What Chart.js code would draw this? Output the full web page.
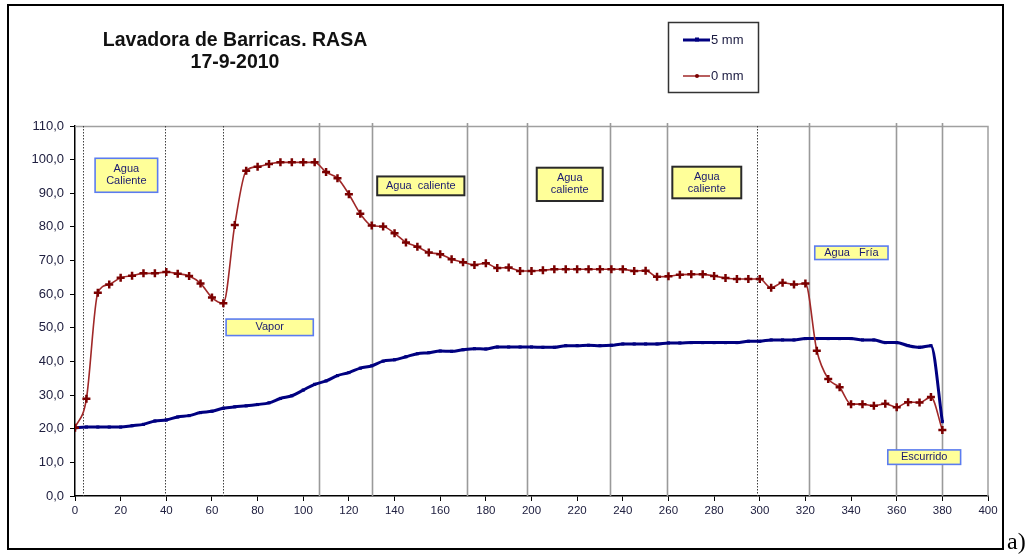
<!DOCTYPE html>
<html>
<head>
<meta charset="utf-8">
<script src="https://cdn.jsdelivr.net/npm/chart.js@4"></script>
<style>
  html, body { margin: 0; padding: 0; background: #ffffff; }
  #wrap { width: 1035px; height: 556px; position: relative; }
</style>
</head>
<body>
<div id="wrap"><canvas id="c" width="1035" height="556"></canvas></div>
<script>
// Sampling times (min)
const minutes = [
  0, 5, 10, 15, 20, 25, 30, 35, 40, 45, 50, 55, 60, 65, 70, 75, 80, 85, 90, 95,
  100, 105, 110, 115, 120, 125, 130, 135, 140, 145, 150, 155, 160, 165, 170, 175, 180, 185, 190, 195,
  200, 205, 210, 215, 220, 225, 230, 235, 240, 245, 250, 255, 260, 265, 270, 275, 280, 285, 290, 295,
  300, 305, 310, 315, 320, 325, 330, 335, 340, 345, 350, 355, 360, 365, 370, 375, 380
];

// Temperature at 5 mm depth
const temp5mm = [
  20.3, 20.5, 20.5, 20.5, 20.5, 20.9, 21.3, 22.3, 22.6, 23.5, 23.9, 24.8, 25.2, 26.1, 26.5, 26.8, 27.2, 27.7, 29.0, 29.8,
  31.5, 33.2, 34.2, 35.8, 36.7, 38.0, 38.7, 40.1, 40.5, 41.4, 42.3, 42.6, 43.1, 43.0, 43.5, 43.8, 43.7, 44.3, 44.3, 44.3,
  44.3, 44.2, 44.2, 44.7, 44.7, 44.8, 44.7, 44.8, 45.2, 45.2, 45.2, 45.2, 45.5, 45.5, 45.6, 45.6, 45.6, 45.6, 45.6, 46.0,
  46.0, 46.4, 46.4, 46.4, 46.8, 46.8, 46.8, 46.8, 46.8, 46.4, 46.4, 45.6, 45.6, 44.7, 44.2, 44.7, 22.1
];

// Temperature at the surface (0 mm)
const temp0mm = [
  20.3, 28.9, 60.4, 62.9, 64.9, 65.5, 66.2, 66.2, 66.6, 66.1, 65.4, 63.2, 59.0, 57.3, 80.6, 96.7, 97.9, 98.7, 99.2, 99.2,
  99.2, 99.2, 96.3, 94.5, 89.7, 83.9, 80.4, 80.1, 78.1, 75.4, 74.1, 72.4, 71.9, 70.4, 69.5, 68.7, 69.2, 67.8, 67.9, 66.9,
  66.9, 67.1, 67.4, 67.4, 67.4, 67.4, 67.4, 67.4, 67.4, 66.9, 67.0, 65.2, 65.3, 65.8, 65.9, 65.9, 65.4, 64.8, 64.5, 64.5,
  64.5, 61.9, 63.4, 62.9, 63.2, 43.2, 34.8, 32.3, 27.3, 27.3, 26.8, 27.4, 26.4, 27.9, 27.8, 29.4, 19.6
];

const seriesNames = ['5 mm', '0 mm'];
const titleLines = ['Lavadora de Barricas. RASA', '17-9-2010'];

// Phase boundaries (min)
const dottedMarks = [3.5, 39.5, 65, 299];
const solidMarks = [107, 130, 171.7, 198, 234.3, 259.5, 321.4, 359.5, 380];

// Phase labels: text lines and the box corners in axis units
const phaseLabels = [
  { lines: ['Agua', 'Caliente'], x0: 8.8,   x1: 36.2,  y0: 100.4, y1: 90.3, edge: 'blue' },
  { lines: ['Vapor'],            x0: 66.2,  x1: 104.4, y0: 52.6,  y1: 47.7, edge: 'blue' },
  { lines: ['Agua  caliente'],   x0: 132.4, x1: 170.6, y0: 95.0,  y1: 89.4, edge: 'dark' },
  { lines: ['Agua', 'caliente'], x0: 202.3, x1: 231.2, y0: 97.6,  y1: 87.7, edge: 'dark' },
  { lines: ['Agua', 'caliente'], x0: 261.7, x1: 291.9, y0: 97.9,  y1: 88.5, edge: 'dark' },
  { lines: ['Agua   Fría'],      x0: 324.1, x1: 356.2, y0: 74.3,  y1: 70.3, edge: 'blue' },
  { lines: ['Escurrido'],        x0: 356.1, x1: 388.0, y0: 13.7,  y1: 9.4,  edge: 'blue' }
];

const BLUE = '#000080';
const RED = '#a02828';
const RED_MARK = '#7a0000';
const SANS = '"Liberation Sans", Arial, sans-serif';

const toPoints = (ys) => minutes.map((m, i) => ({ x: m, y: ys[i] }));

const decorations = {
  id: 'decorations',
  beforeDatasetsDraw(chart) {
    const { ctx, chartArea: a, scales: { x } } = chart;
    ctx.save();
    // plot frame (top and right)
    ctx.strokeStyle = '#a0a0a0';
    ctx.lineWidth = 1.5;
    ctx.beginPath();
    ctx.moveTo(a.left, a.top + 0.5);
    ctx.lineTo(a.right, a.top + 0.5);
    ctx.lineTo(a.right, a.bottom);
    ctx.stroke();
    // solid phase lines
    ctx.strokeStyle = '#9a9a9a';
    ctx.lineWidth = 1.6;
    solidMarks.forEach(v => {
      const px = Math.round(x.getPixelForValue(v)) + 0.5;
      ctx.beginPath();
      ctx.moveTo(px, a.top - 3);
      ctx.lineTo(px, a.bottom);
      ctx.stroke();
    });
    // dotted phase lines
    ctx.strokeStyle = '#404040';
    ctx.lineWidth = 1;
    ctx.setLineDash([1.5, 1.5]);
    dottedMarks.forEach(v => {
      const px = Math.round(x.getPixelForValue(v)) + 0.5;
      ctx.beginPath();
      ctx.moveTo(px, a.top);
      ctx.lineTo(px, a.bottom);
      ctx.stroke();
    });
    ctx.restore();
  },
  afterDraw(chart) {
    const { ctx, scales: { x, y } } = chart;
    ctx.save();

    // phase label boxes
    phaseLabels.forEach(b => {
      const l = x.getPixelForValue(b.x0), r = x.getPixelForValue(b.x1);
      const t = y.getPixelForValue(b.y0), btm = y.getPixelForValue(b.y1);
      ctx.fillStyle = '#ffff99';
      ctx.fillRect(l, t, r - l, btm - t);
      ctx.lineWidth = b.edge === 'blue' ? 1.6 : 2;
      ctx.strokeStyle = b.edge === 'blue' ? '#5b7cf0' : '#2a2a2a';
      ctx.strokeRect(l, t, r - l, btm - t);
      ctx.fillStyle = '#1a1a70';
      ctx.font = '11px ' + SANS;
      ctx.textAlign = 'center';
      ctx.textBaseline = 'middle';
      const cx = (l + r) / 2, cy = (t + btm) / 2, lh = 12;
      b.lines.forEach((s, i) => {
        ctx.fillText(s, cx, cy + (i - (b.lines.length - 1) / 2) * lh);
      });
    });

    // title
    ctx.fillStyle = '#111111';
    ctx.font = 'bold 19.5px ' + SANS;
    ctx.textAlign = 'center';
    ctx.textBaseline = 'middle';
    ctx.fillText(titleLines[0], 235, 41);
    ctx.fillText(titleLines[1], 235, 63);

    // legend
    ctx.strokeStyle = '#333333';
    ctx.lineWidth = 1.5;
    ctx.strokeRect(668.5, 22.5, 90, 70);
    const entries = [
      { name: seriesNames[0], color: BLUE, width: 3, ly: 40, mark: 'rect' },
      { name: seriesNames[1], color: RED, width: 1.5, ly: 76, mark: 'dot' }
    ];
    entries.forEach(e => {
      ctx.strokeStyle = e.color;
      ctx.lineWidth = e.width;
      ctx.beginPath();
      ctx.moveTo(683, e.ly);
      ctx.lineTo(710, e.ly);
      ctx.stroke();
      ctx.fillStyle = e.mark === 'rect' ? BLUE : RED_MARK;
      if (e.mark === 'rect') ctx.fillRect(695, e.ly - 2.5, 4, 4);
      else { ctx.beginPath(); ctx.arc(697, e.ly, 2, 0, Math.PI * 2); ctx.fill(); }
      ctx.fillStyle = '#1a1a40';
      ctx.font = '13px ' + SANS;
      ctx.textAlign = 'left';
      ctx.textBaseline = 'middle';
      ctx.fillText(e.name, 711, e.ly);
    });

    // outer frame and figure tag
    ctx.strokeStyle = '#000000';
    ctx.lineWidth = 2;
    ctx.strokeRect(8, 5, 995, 544);
    ctx.fillStyle = '#000000';
    ctx.font = '24px "Liberation Serif", "Times New Roman", serif';
    ctx.textAlign = 'left';
    ctx.textBaseline = 'alphabetic';
    ctx.fillText('a)', 1007, 549);
    ctx.restore();
  }
};

new Chart(document.getElementById('c'), {
  type: 'line',
  data: {
    datasets: [
      {
        label: seriesNames[0],
        data: toPoints(temp5mm),
        borderColor: BLUE,
        backgroundColor: BLUE,
        borderWidth: 3,
        pointStyle: 'rect',
        pointRadius: 2.2,
        pointBorderWidth: 0,
        pointBackgroundColor: BLUE,
        tension: 0.3,
        cubicInterpolationMode: 'monotone',
        order: 2
      },
      {
        label: seriesNames[1],
        data: toPoints(temp0mm),
        borderColor: RED,
        backgroundColor: RED_MARK,
        borderWidth: 1.6,
        pointStyle: 'cross',
        pointRadius: 4,
        pointBorderWidth: 2.5,
        pointBorderColor: RED_MARK,
        pointBackgroundColor: RED_MARK,
        tension: 0.3,
        cubicInterpolationMode: 'monotone',
        order: 1
      }
    ]
  },
  options: {
    responsive: false,
    animation: false,
    devicePixelRatio: 1,
    layout: { padding: { top: 126, left: 0, right: 47, bottom: 30 } },
    plugins: {
      legend: { display: false },
      title: { display: false },
      tooltip: { enabled: false }
    },
    scales: {
      x: {
        type: 'linear',
        min: 0,
        max: 400,
        afterFit: (s) => { s.height = 30; },
        ticks: {
          stepSize: 20,
          padding: 3,
          color: '#202040',
          font: { family: SANS, size: 11.5 },
          maxRotation: 0
        },
        grid: { drawOnChartArea: false, drawTicks: true, tickLength: 5, color: '#000000', lineWidth: 1 },
        border: { display: true, color: '#000000', width: 1.5 }
      },
      y: {
        min: 0,
        max: 110,
        afterFit: (s) => { s.width = 75; },
        ticks: {
          stepSize: 10,
          padding: 6,
          color: '#202040',
          font: { family: SANS, size: 13 },
          callback: (v) => v.toFixed(1).replace('.', ',')
        },
        grid: { drawOnChartArea: false, drawTicks: true, tickLength: 5, color: '#000000', lineWidth: 1 },
        border: { display: true, color: '#000000', width: 1.5 }
      }
    }
  },
  plugins: [decorations]
});
</script>
</body>
</html>
